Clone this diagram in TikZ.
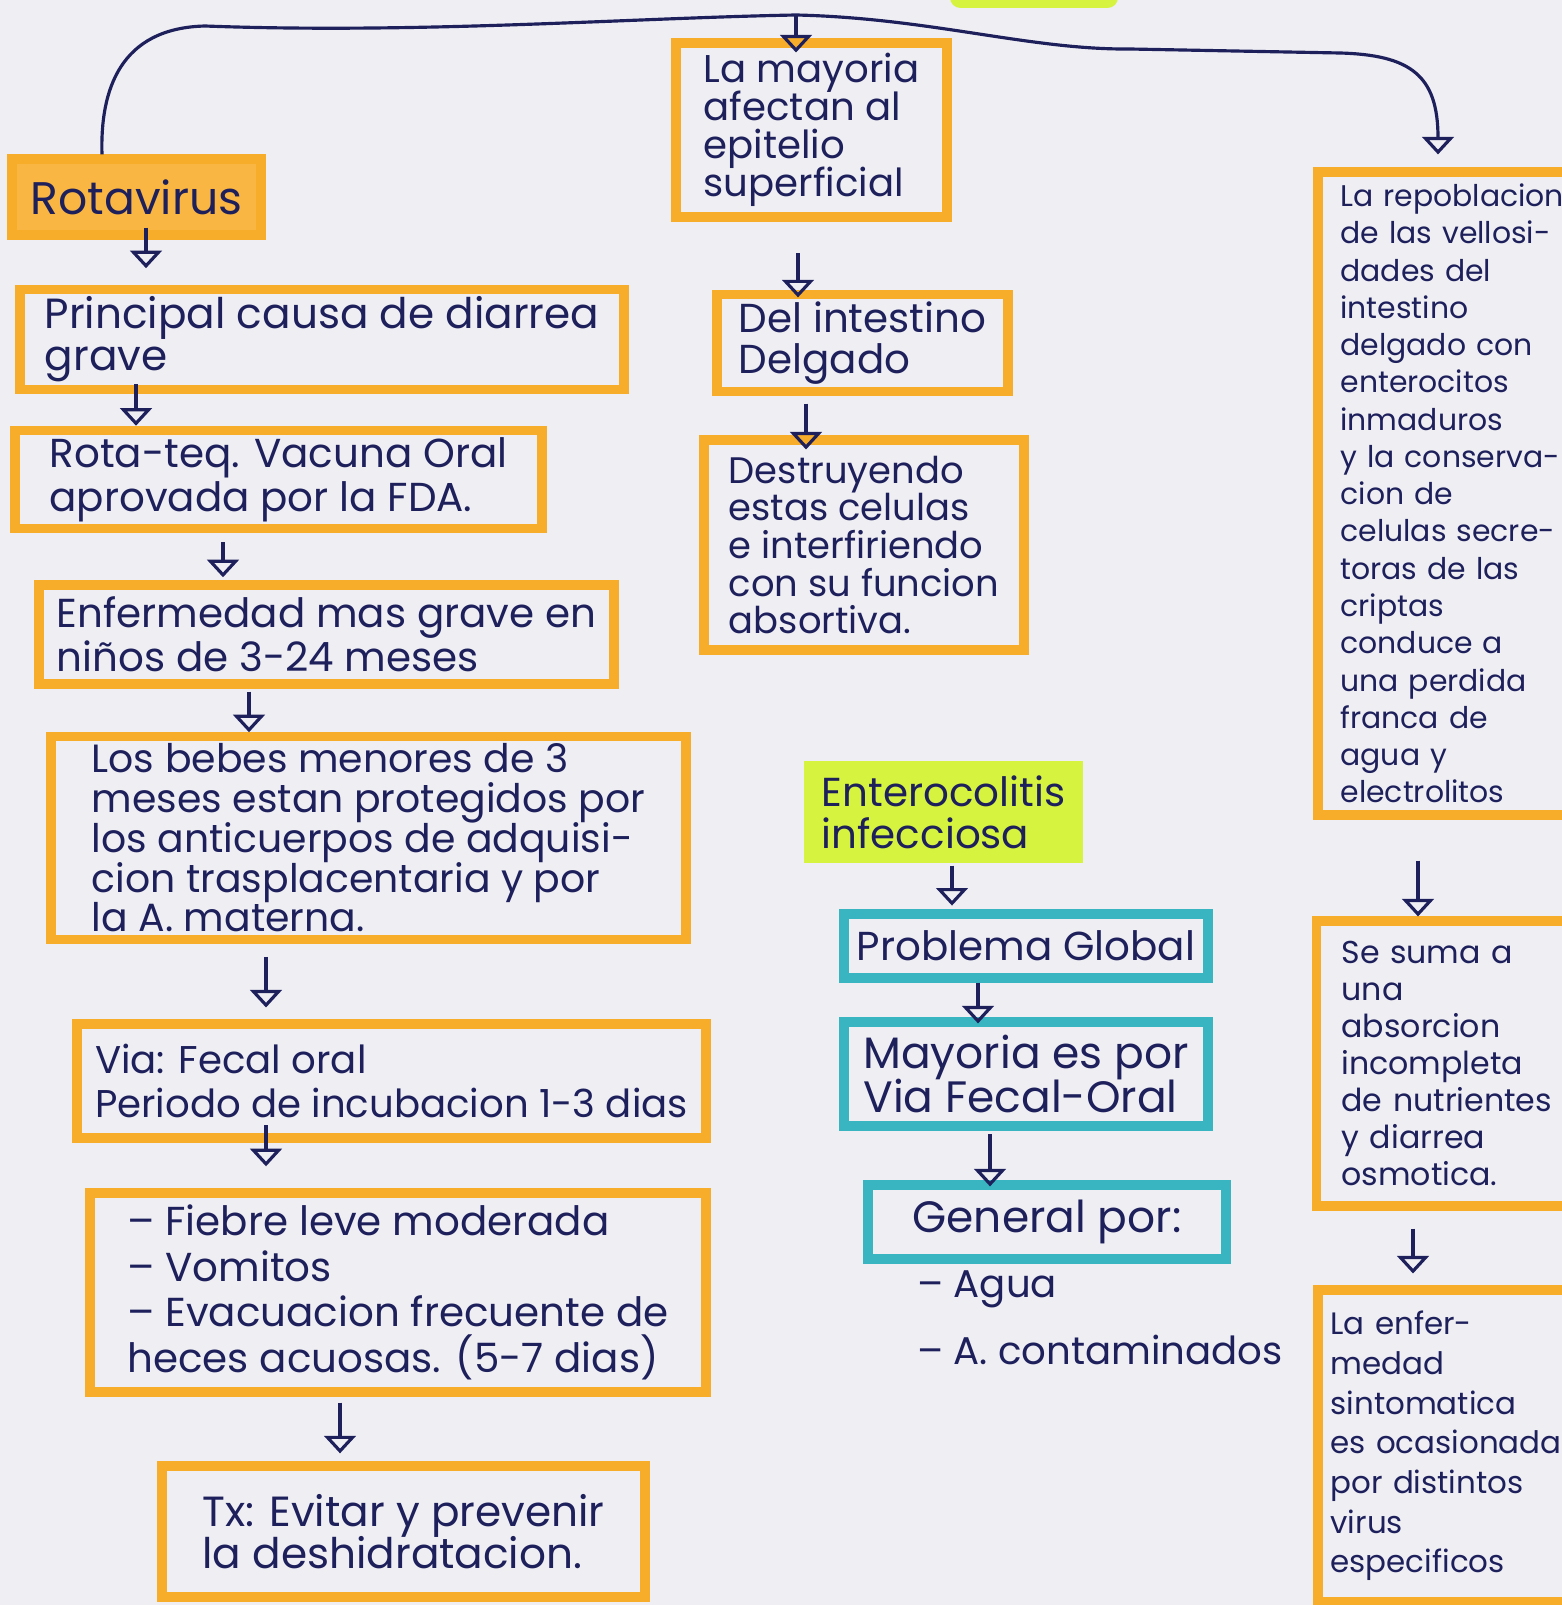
\documentclass[tikz,border=0pt]{standalone}
\usepackage{fontspec}
\setmainfont{Poppins}
\usetikzlibrary{arrows.meta}

\definecolor{paper}{RGB}{238,238,243}
\definecolor{ink}{RGB}{30,32,92}
\definecolor{markorange}{RGB}{247,172,42}
\definecolor{markfill}{RGB}{249,182,66}
\definecolor{markteal}{RGB}{56,181,193}
\definecolor{marklime}{RGB}{214,243,64}
\newcommand{\tightlines}{\lineskiplimit-20pt\relax}

\begin{document}
\begin{tikzpicture}[
  box/.style={shape=rectangle, draw=markorange, line width=2.6pt, text=ink, align=left, inner sep=2pt},
  tealbox/.style={box, draw=markteal},
  hand/.style 2 args={font=\fontsize{#1}{#2}\selectfont\tightlines},
  pen/.style={draw=ink, line width=0.9pt},
  arr/.style={pen, -{Triangle[open, length=5pt, width=9pt]}}
]
  \useasboundingbox (0,0) rectangle (15.62,-16.05);
  \clip (0,0) rectangle (15.62,-16.05);
  \fill [paper] (0,0) rectangle (15.62,-16.05);
  \fill [marklime, rounded corners=3pt] (9.5,0.2) rectangle (11.18,-0.08);

  % left column
  \node [box, fill=markfill, hand={13}{13}, minimum width=2.49cm, minimum height=0.76cm] (rota) at (1.365,-1.97) {Rotavirus};
  \node [box, hand={12}{12}, minimum width=6.04cm, minimum height=0.95cm] (causa) at (3.22,-3.395) {Principal causa de diarrea\\grave};
  \node [box, hand={11.5}{12.5}, minimum width=5.27cm, minimum height=0.89cm] (rotateq) at (2.785,-4.795) {Rota-teq. Vacuna Oral\\aprovada por la FDA.};
  \node [box, hand={11.5}{12.5}, minimum width=5.75cm, minimum height=0.99cm] (enferm) at (3.265,-6.345) {Enfermedad mas grave en\\niños de 3-24 meses};
  \node [box, hand={11.2}{11.3}, minimum width=6.35cm, minimum height=1.98cm] (bebes) at (3.685,-8.38) {Los bebes menores de 3\\meses estan protegidos por\\los anticuerpos de adquisi-\\cion trasplacentaria y por\\la A. materna.};
  \node [box, hand={11}{12.5}, minimum width=6.29cm, minimum height=1.14cm] (via) at (3.915,-10.81) {Via: Fecal oral\\Periodo de incubacion 1-3 dias};
  \node [box, hand={11.5}{13}, minimum width=6.16cm, minimum height=1.99cm] (sintomas) at (3.98,-12.925) {– Fiebre leve moderada\\– Vomitos\\– Evacuacion frecuente de\\heces acuosas. (5-7 dias)};
  \node [box, hand={12}{12}, minimum width=4.83cm, minimum height=1.31cm] (tx) at (4.035,-15.315) {Tx: Evitar y prevenir\\la deshidratacion.};

  % middle column
  \node [box, hand={11}{10.8}, minimum width=2.71cm, minimum height=1.74cm] (mayoria) at (8.115,-1.3) {La mayoria\\afectan al\\epitelio\\superficial};
  \node [box, hand={11.5}{11.5}, minimum width=2.91cm, minimum height=0.88cm] (intestino) at (8.625,-3.43) {Del intestino\\Delgado};
  \node [box, hand={10.5}{10.7}, minimum width=3.2cm, minimum height=2.1cm] (destruy) at (8.64,-5.45) {Destruyendo\\estas celulas\\e interfiriendo\\con su funcion\\absortiva.};
  \node [box, draw=marklime, fill=marklime, hand={11.5}{12}, minimum width=2.69cm, minimum height=0.92cm] (entero) at (9.435,-8.12) {Enterocolitis\\infecciosa};
  \node [tealbox, hand={11.5}{12}, minimum width=3.64cm, minimum height=0.64cm] (problema) at (10.26,-9.46) {Problema Global};
  \node [tealbox, hand={12.5}{12.5}, minimum width=3.64cm, minimum height=1.04cm] (mayvia) at (10.26,-10.74) {Mayoria es por\\Via Fecal-Oral};
  \node [tealbox, hand={12.5}{12.5}, minimum width=3.58cm, minimum height=0.74cm] (general) at (10.47,-12.22) {General por:};
  \node [text=ink, align=left, hand={11}{19}, anchor=west] (agua) at (9.05,-13.18) {– Agua\\– A. contaminados};

  % right column
  \node [box, hand={8.5}{10.6}, text width=2.3cm, minimum width=2.75cm, minimum height=6.43cm] (repobl) at (14.555,-4.935) {La repoblacion\\de las vellosi-\\dades del\\intestino\\delgado con\\enterocitos\\inmaduros\\y la conserva-\\cion de\\celulas secre-\\toras de las\\criptas\\conduce a\\una perdida\\franca de\\agua y\\electrolitos};
  \node [box, hand={9}{10.5}, text width=2.25cm, minimum width=2.75cm, minimum height=2.85cm] (suma) at (14.54,-10.635) {Se suma a\\una\\absorcion\\incompleta\\de nutrientes\\y diarrea\\osmotica.};
  \node [box, hand={8.8}{11.3}, text width=2.5cm, minimum width=2.75cm, minimum height=3.12cm] (enfer) at (14.555,-14.46) {La enfer-\\medad\\sintomatica\\es ocasionada\\por distintos\\virus\\especificos};

  % connectors
  \coordinate (split) at (7.96,-0.15);
  \draw [pen] (rota.north -| 1.02,0) .. controls (1.0,-0.9) and (1.2,-0.28) .. (2.05,-0.26) .. controls (4.2,-0.34) and (6.3,-0.18) .. (split);
  \draw [arr, shorten >=3.7pt] (split) .. controls (9.3,-0.18) and (10.3,-0.5) .. (11.3,-0.49) -- (13.4,-0.53) .. controls (14.1,-0.55) and (14.38,-0.75) .. (repobl.north -| 14.38,0);
  \draw [arr, shorten >=-4pt] (split) -- (mayoria.north -| split);

  \draw [arr, shorten <=-3.4pt, shorten >=4.8pt] (rota.south -| 1.46,0) -- (causa.north -| 1.46,0);
  \draw [arr, shorten <=-2.8pt] (causa.south -| 1.36,0) -- (rotateq.north -| 1.36,0);
  \draw [arr, shorten <=2.6pt, shorten >=0.9pt] (rotateq.south -| 2.23,0) -- (enferm.north -| 2.23,0);
  \draw [arr, shorten <=0.9pt] (enferm.south -| 2.49,0) -- (bebes.north -| 2.49,0);
  \draw [arr, shorten <=3.7pt, shorten >=3.4pt] (bebes.south -| 2.66,0) -- (via.north -| 2.66,0);
  \draw [arr, shorten <=-5pt, shorten >=6.3pt] (via.south -| 2.66,0) -- (sintomas.north -| 2.66,0);
  \draw [arr, shorten <=1.7pt, shorten >=2.3pt] (sintomas.south -| 3.40,0) -- (tx.north -| 3.40,0);

  \draw [arr, shorten <=9pt, shorten >=-2pt] (mayoria.south -| 7.98,0) -- (intestino.north -| 7.98,0);
  \draw [arr, shorten <=2.3pt, shorten >=-4pt] (intestino.south -| 8.06,0) -- (destruy.north -| 8.06,0);
  \draw [arr, shorten <=0.9pt, shorten >=1.1pt] (entero.south -| 9.52,0) -- (problema.north -| 9.52,0);
  \draw [arr, shorten >=-1.7pt] (problema.south -| 9.78,0) -- (mayvia.north -| 9.78,0);
  \draw [arr, shorten <=1.1pt, shorten >=-1.7pt] (mayvia.south -| 9.90,0) -- (general.north -| 9.90,0);

  \draw [arr, shorten <=11.7pt] (repobl.south -| 14.18,0) -- (suma.north -| 14.18,0);
  \draw [arr, shorten <=5.1pt, shorten >=3.4pt] (suma.south -| 14.13,0) -- (enfer.north -| 14.13,0);
\end{tikzpicture}
\end{document}
